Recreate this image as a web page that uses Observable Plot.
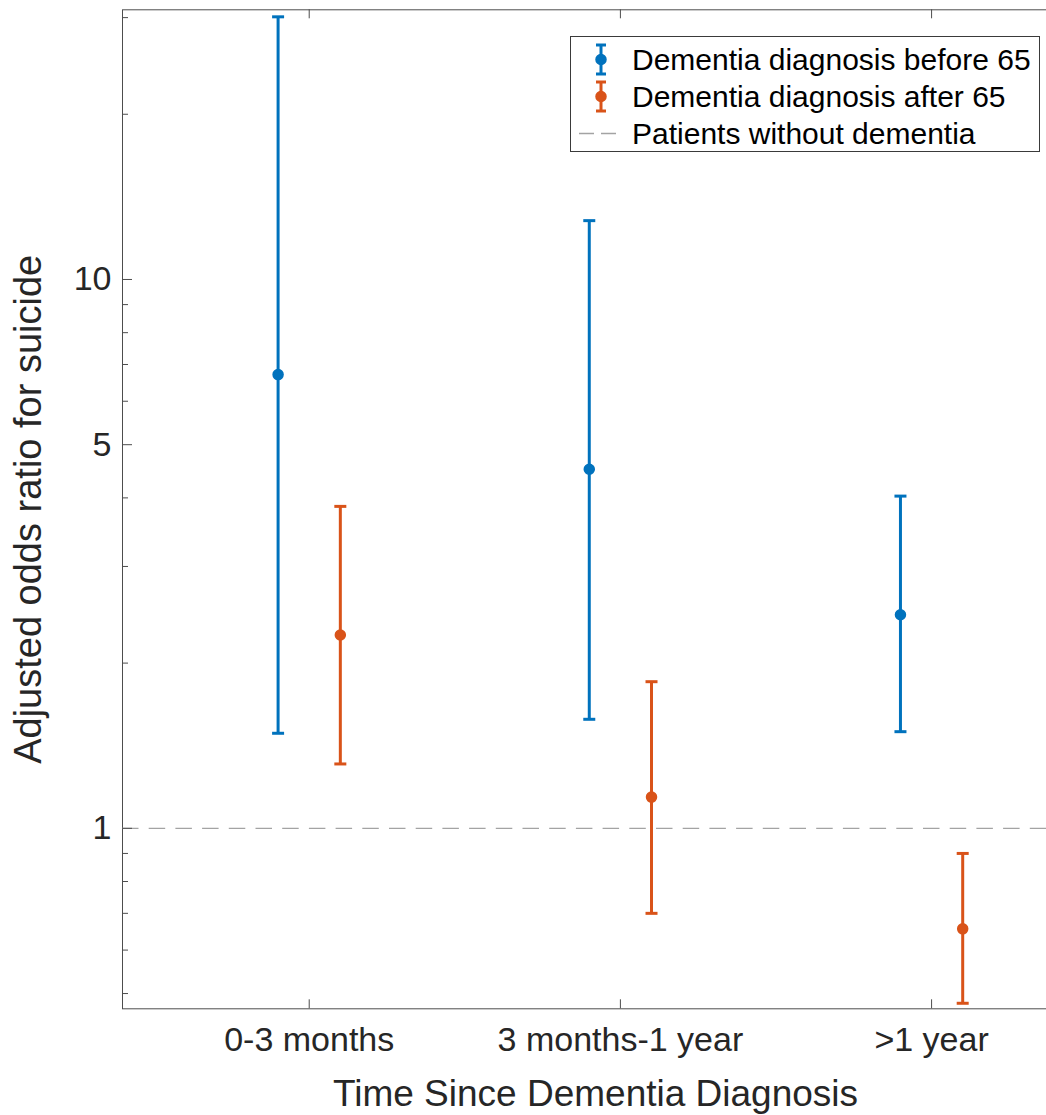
<!DOCTYPE html>
<html>
<head>
<meta charset="utf-8">
<script src="https://cdn.jsdelivr.net/npm/d3@7"></script>
<script src="https://cdn.jsdelivr.net/npm/@observablehq/plot@0.6"></script>
<style>
  html, body { margin: 0; padding: 0; background: #fff; overflow: hidden; }
  #wrap { position: relative; width: 1046px; height: 1115px; overflow: hidden; font-family: "Liberation Sans", Arial, sans-serif; }
  #wrap svg { position: absolute; left: 0; top: 0; overflow: hidden; }
  g[aria-label="y-axis label"] text { font-size: 38px; }
  g[aria-label="x-axis label"] text { font-size: 37px; }
  #legend { position: absolute; left: 570px; top: 36px; width: 470px; height: 116px; box-sizing: border-box;
            border: 1px solid #3a3a3a; background: #fff; }
  .row { position: absolute; left: 0; height: 37px; width: 100%; }
  .row svg { position: absolute; left: 0; top: 0; }
  .row span { position: absolute; left: 61px; top: 0; line-height: 37px; font-size: 30px; color: #000; white-space: nowrap; }
</style>
</head>
<body>
<div id="wrap"></div>
<script>
// ---- data ----
const categories = ["0-3 months", "3 months-1 year", ">1 year"];
const seriesNames = ["Dementia diagnosis before 65", "Dementia diagnosis after 65"];
const seriesColors = ["#0072BD", "#D95319"];
const beforeOR = [6.71, 4.51, 2.45];
const beforeLo = [1.49, 1.58, 1.50];
const beforeHi = [30.1, 12.8, 4.03];
const afterOR = [2.25, 1.14, 0.656];
const afterLo = [1.31, 0.70, 0.48];
const afterHi = [3.86, 1.85, 0.90];
const referenceOR = [1];
const referenceName = "Patients without dementia";
const yTickLabels = [1, 5, 10];
const yMinorTicks = [0.5, 0.6, 0.7, 0.8, 0.9, 2, 3, 4, 6, 7, 8, 9, 20, 30];
const xLabel = "Time Since Dementia Diagnosis";
const yLabel = "Adjusted odds ratio for suicide";

// ---- table built from the arrays ----
const groupOffset = [-0.1, 0.1];
const rows = [];
categories.forEach((c, i) => {
  rows.push({cat: i + 1, g: 0, or: beforeOR[i], lo: beforeLo[i], hi: beforeHi[i]});
  rows.push({cat: i + 1, g: 1, or: afterOR[i], lo: afterLo[i], hi: afterHi[i]});
});
rows.forEach(d => { d.x = d.cat + groupOffset[d.g]; d.color = seriesColors[d.g]; });

const W = 1046, H = 1115;
const mT = 9.3, mB = 106.7, mL = 122, mR = -22;
const plotW = W - mL - mR, plotH = H - mT - mB;
const capSymbol = { draw(ctx) { ctx.moveTo(-6, 0); ctx.lineTo(6, 0); } };
const axisColor = "#4d4d4d";

const chart = Plot.plot({
  width: W, height: H,
  marginTop: mT, marginBottom: mB, marginLeft: mL, marginRight: mR,
  style: { fontFamily: "Liberation Sans, Arial, sans-serif", color: "#262626", background: "transparent" },
  x: { type: "linear", domain: [0.4, 3.44] },
  y: { type: "log", domain: [0.469, 31.0] },
  marks: [
    Plot.frame({ stroke: axisColor, strokeWidth: 1 }),
    Plot.ruleY(referenceOR, { y: d => d, stroke: "#a3a3a3", strokeWidth: 1.3, strokeDasharray: "16.5,10.2" }),
    // inward ticks (MATLAB style)
    Plot.ruleY(yTickLabels, { y: d => d, insetRight: plotW - 10, stroke: axisColor }),
    Plot.ruleY(yMinorTicks, { y: d => d, insetRight: plotW - 6, stroke: axisColor }),
    Plot.ruleX([1, 2, 3], { x: d => d, insetTop: plotH - 9, stroke: axisColor }),
    Plot.ruleX([1, 2, 3], { x: d => d, insetBottom: plotH - 9, stroke: axisColor }),
    Plot.axisY({ ticks: yTickLabels, tickSize: 0, tickPadding: 11, fontSize: 34, tickFormat: d => String(d),
                 label: yLabel, labelAnchor: "center", labelArrow: "none", labelOffset: 108 }),
    Plot.axisX({ ticks: [1, 2, 3], tickSize: 0, tickPadding: 18, fontSize: 34, tickFormat: i => categories[i - 1],
                 label: xLabel, labelAnchor: "center", labelArrow: "none", labelOffset: 97 }),
    // error bars
    Plot.ruleX(rows, { x: "x", y1: "lo", y2: "hi", stroke: "color", strokeWidth: 3 }),
    Plot.dot(rows, { x: "x", y: "lo", symbol: capSymbol, stroke: "color", strokeWidth: 3, fill: "none" }),
    Plot.dot(rows, { x: "x", y: "hi", symbol: capSymbol, stroke: "color", strokeWidth: 3, fill: "none" }),
    Plot.dot(rows, { x: "x", y: "or", r: 5, fill: "color", stroke: "color", strokeWidth: 1.5 })
  ]
});
document.getElementById("wrap").appendChild(chart);

// ---- legend ----
const legend = document.createElement("div");
legend.id = "legend";
const ns = "http://www.w3.org/2000/svg";
function row(top, label, draw) {
  const r = document.createElement("div");
  r.className = "row"; r.style.top = top + "px";
  const s = document.createElementNS(ns, "svg");
  s.setAttribute("width", 60); s.setAttribute("height", 37);
  draw(s);
  r.appendChild(s);
  const t = document.createElement("span"); t.textContent = label; r.appendChild(t);
  legend.appendChild(r);
}
function el(parent, name, attrs) {
  const e = document.createElementNS(ns, name);
  for (const k in attrs) e.setAttribute(k, attrs[k]);
  parent.appendChild(e); return e;
}
seriesNames.forEach((name, i) => {
  row(4 + i * 37, name, s => {
    const c = seriesColors[i];
    el(s, "line", { x1: 30, x2: 30, y1: 4, y2: 33, stroke: c, "stroke-width": 3 });
    el(s, "line", { x1: 25, x2: 35, y1: 4, y2: 4, stroke: c, "stroke-width": 3 });
    el(s, "line", { x1: 25, x2: 35, y1: 33, y2: 33, stroke: c, "stroke-width": 3 });
    el(s, "circle", { cx: 30, cy: 18.5, r: 5, fill: c, stroke: c, "stroke-width": 1.5 });
  });
});
row(78, referenceName, s => {
  el(s, "line", { x1: 8, x2: 52, y1: 18.5, y2: 18.5, stroke: "#a3a3a3", "stroke-width": 1.3, "stroke-dasharray": "15,7" });
});
document.getElementById("wrap").appendChild(legend);
</script>
</body>
</html>
